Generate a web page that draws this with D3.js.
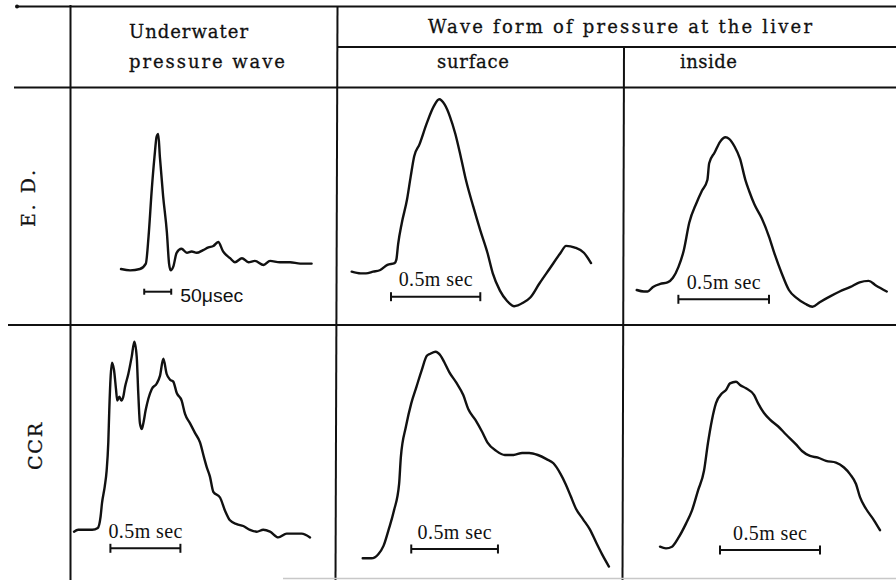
<!DOCTYPE html>
<html>
<head>
<meta charset="utf-8">
<script src="https://cdn.jsdelivr.net/npm/d3@7"></script>
<style>
  body { margin: 0; background: #fff; }
  svg text { fill: #111; }
</style>
</head>
<body>
<div id="chart"></div>
<script>
// --- data: [time, relative pressure (baseline 0, peak 100)] ---
// E.D. underwater wave, time in microseconds
const edUnderwater = [[0,0],[17,-1],[35,0],[46,4],[51,24],[57,59],[62,83],[66,98],[69,100],[72,83],[78,54],[85,27],[89,4],[92,-1],[97,2],[103,12],[112,15],[122,12],[131,13],[140,12],[152,14],[162,16],[171,17],[180,20],[189,13],[202,8],[211,5],[224,8],[236,5],[248,6],[264,3],[276,6],[294,5],[313,5],[332,4],[353,4]];
// E.D. liver surface, time in ms
const edSurface = [[0,0],[0.05,-1],[0.08,-1],[0.12,0],[0.16,1],[0.20,4],[0.24,5],[0.25,7],[0.26,16],[0.28,28],[0.31,42],[0.33,55],[0.35,67],[0.38,74],[0.42,86],[0.46,96],[0.49,100],[0.52,97],[0.55,90],[0.58,80],[0.61,67],[0.64,53],[0.68,38],[0.72,24],[0.76,11],[0.79,-1],[0.83,-11],[0.87,-17],[0.91,-20],[0.96,-18],[1.00,-15],[1.05,-7],[1.11,2],[1.17,11],[1.20,15],[1.25,14],[1.30,11],[1.34,5]];
// E.D. liver inside, time in ms
const edInside = [[0,0],[0.04,-1],[0.06,-1],[0.09,2],[0.13,4],[0.17,5],[0.20,8],[0.23,15],[0.26,26],[0.29,44],[0.33,57],[0.36,65],[0.39,72],[0.40,83],[0.43,90],[0.46,97],[0.49,100],[0.51,99],[0.54,94],[0.57,86],[0.60,72],[0.62,65],[0.65,56],[0.69,47],[0.73,35],[0.76,24],[0.80,11],[0.84,0],[0.88,-5],[0.93,-9],[0.97,-11],[1.01,-8],[1.07,-4],[1.12,-1],[1.18,2],[1.23,5],[1.28,6],[1.32,3],[1.38,-1]];
// CCR underwater wave, time in ms
const ccrUnderwater = [[0,0],[0.03,1],[0.08,1],[0.13,1],[0.17,2],[0.19,8],[0.20,15],[0.22,24],[0.233,32],[0.245,47],[0.252,64],[0.262,82],[0.271,89],[0.286,85],[0.300,75],[0.309,69],[0.324,71],[0.338,69],[0.352,71],[0.364,76],[0.388,83],[0.412,92],[0.431,100],[0.448,92],[0.459,73],[0.471,57],[0.484,54],[0.495,57],[0.512,64],[0.531,70],[0.555,75],[0.591,78],[0.614,82],[0.638,91],[0.662,83],[0.686,80],[0.709,79],[0.734,73],[0.769,69],[0.793,62],[0.829,57],[0.864,52],[0.900,47],[0.929,39],[0.948,34],[0.971,29],[0.995,21],[1.043,18],[1.079,11],[1.114,6],[1.162,4],[1.209,3],[1.257,1],[1.305,0],[1.352,1],[1.400,0],[1.459,-3],[1.519,-1],[1.566,-1],[1.626,-1],[1.686,-3]];
// CCR liver surface, time in ms
const ccrSurface = [[0,0],[0.05,0],[0.09,2],[0.12,6],[0.15,14],[0.18,23],[0.21,36],[0.22,49],[0.25,64],[0.28,75],[0.31,83],[0.34,91],[0.37,98],[0.39,99],[0.42,100],[0.45,98],[0.47,95],[0.50,90],[0.54,85],[0.58,79],[0.61,72],[0.65,67],[0.69,61],[0.72,56],[0.77,52],[0.82,50],[0.87,50],[0.92,51],[0.96,51],[1.01,50],[1.06,48],[1.10,46],[1.14,41],[1.17,36],[1.20,30],[1.23,24],[1.27,19],[1.31,14],[1.35,7],[1.38,2],[1.42,-4]];
// CCR liver inside, time in ms
const ccrInside = [[0,0],[0.03,-1],[0.06,0],[0.09,5],[0.13,14],[0.16,22],[0.19,34],[0.22,46],[0.24,63],[0.26,77],[0.28,87],[0.31,93],[0.33,95],[0.35,99],[0.38,100],[0.40,98],[0.43,96],[0.47,92],[0.49,87],[0.52,81],[0.55,77],[0.59,73],[0.63,68],[0.68,62],[0.71,58],[0.75,55],[0.79,54],[0.83,52],[0.88,51],[0.92,48],[0.95,44],[0.98,38],[1.00,30],[1.03,23],[1.07,16],[1.10,10]];

const rowLabels = ["E. D.", "CCR"];
const scaleBarLabels = ["50\u03bcsec", "0.5m sec", "0.5m sec", "0.5m sec", "0.5m sec", "0.5m sec"];
const scaleBarLengths = [50, 0.5, 0.5, 0.5, 0.5, 0.5];
const scaleBarStarts = [43, 0.22, 0.23, 0.26, 0.28, 0.30];

const width = 896, height = 580;
const svg = d3.select("#chart").append("svg")
    .attr("width", width)
    .attr("height", height);

// table rules
const rules = [
    [17, 6.5, 896, 6.5],
    [338, 47, 896, 47],
    [14, 87.5, 896, 87.5],
    [8, 325, 896, 325],
    [70.5, 5, 70.5, 580],
    [337.5, 6.5, 335.5, 580],
    [624, 47, 622.5, 580]
];
svg.selectAll("line.rule")
    .data(rules)
    .enter()
    .append("line")
    .attr("class", "rule")
    .attr("x1", d => d[0]).attr("y1", d => d[1])
    .attr("x2", d => d[2]).attr("y2", d => d[3])
    .attr("stroke", "#111")
    .attr("stroke-width", 2);

svg.append("circle").attr("cx", 17).attr("cy", 6.5).attr("r", 2).attr("fill", "#111");

svg.append("line")
    .attr("x1", 283).attr("y1", 578.5).attr("x2", 896).attr("y2", 578.5)
    .attr("stroke", "#c8c8c8").attr("stroke-width", 1.5);

// header texts
const serif = "'DejaVu Serif', serif";
const headers = [
    {t: "Underwater", x: 129, y: 37.5, len: 119},
    {t: "pressure wave", x: 129, y: 68, len: 156},
    {t: "Wave form of pressure at the liver", x: 428, y: 33, len: 384},
    {t: "surface", x: 437, y: 68, len: 72},
    {t: "inside", x: 680, y: 68, len: 57}
];
svg.selectAll("text.head")
    .data(headers)
    .enter()
    .append("text")
    .attr("class", "head")
    .attr("x", d => d.x)
    .attr("y", d => d.y)
    .attr("textLength", d => d.len)
    .attr("lengthAdjust", "spacing")
    .style("font-family", serif)
    .style("font-size", "18px")
    .style("stroke", "#111")
    .style("stroke-width", 0.3)
    .text(d => d.t);

// row labels (vertical)
const rowPos = [{x: 35, y: 198.5, len: 57}, {x: 41.5, y: 446.5, len: 47}];
svg.selectAll("text.row")
    .data(rowLabels)
    .enter()
    .append("text")
    .attr("class", "row")
    .attr("transform", (d, i) => `translate(${rowPos[i].x},${rowPos[i].y}) rotate(-90)`)
    .attr("text-anchor", "middle")
    .attr("textLength", (d, i) => rowPos[i].len)
    .attr("lengthAdjust", "spacing")
    .style("font-family", serif)
    .style("font-size", "19px")
    .style("stroke", "#111")
    .style("stroke-width", 0.3)
    .text(d => d);

// panels: where each trace sits (start x, px per time unit, baseline y, peak y, scale bar y)
const panels = [
    {data: edUnderwater, x0: 121,   k: 0.54,  base: 269,   peak: 134,   barY: 291.7},
    {data: edSurface,    x0: 351.7, k: 178.6, base: 271.7, peak: 99.3,  barY: 296.7},
    {data: edInside,     x0: 636.7, k: 181.2, base: 290,   peak: 137.3, barY: 299.3},
    {data: ccrUnderwater,x0: 74,    k: 140,   base: 531.7, peak: 341.7, barY: 548.3},
    {data: ccrSurface,   x0: 362.7, k: 173.4, base: 558.3, peak: 351.7, barY: 549},
    {data: ccrInside,    x0: 660,   k: 200,   base: 546.7, peak: 381.7, barY: 550}
];

panels.forEach((p, i) => {
    const x = d3.scaleLinear().domain([0, 1]).range([p.x0, p.x0 + p.k]);
    const y = d3.scaleLinear().domain([0, 100]).range([p.base, p.peak]);

    const line = d3.line()
        .x(d => x(d[0]))
        .y(d => y(d[1]))
        .curve(d3.curveMonotoneX);

    svg.append("path")
        .datum(p.data)
        .attr("d", line)
        .attr("fill", "none")
        .attr("stroke", "#111")
        .attr("stroke-width", 2.4)
        .attr("stroke-linejoin", "round")
        .attr("stroke-linecap", "round");

    // scale bar
    const b0 = x(scaleBarStarts[i]);
    const b1 = x(scaleBarStarts[i] + scaleBarLengths[i]);
    const tick = i === 0 ? 3 : 4.5;
    const g = svg.append("g").attr("stroke", "#111").attr("stroke-width", 2);
    g.append("line").attr("x1", b0).attr("x2", b1).attr("y1", p.barY).attr("y2", p.barY);
    g.append("line").attr("x1", b0).attr("x2", b0).attr("y1", p.barY - tick).attr("y2", p.barY + tick);
    g.append("line").attr("x1", b1).attr("x2", b1).attr("y1", p.barY - tick).attr("y2", p.barY + tick);

    if (i === 0) {
        svg.append("text")
            .attr("x", b1 + 9)
            .attr("y", p.barY + 10)
            .attr("textLength", 63)
            .attr("lengthAdjust", "spacingAndGlyphs")
            .style("font-family", "'Liberation Sans', Arial, sans-serif")
            .style("font-size", "18px")
            .text(scaleBarLabels[i]);
    } else {
        svg.append("text")
            .attr("x", (b0 + b1) / 2)
            .attr("y", p.barY - 10.5)
            .attr("text-anchor", "middle")
            .attr("textLength", 74)
            .attr("lengthAdjust", "spacing")
            .style("font-family", "'Liberation Serif', serif")
            .style("font-size", "20px")
            .text(scaleBarLabels[i]);
    }
});
</script>
</body>
</html>
